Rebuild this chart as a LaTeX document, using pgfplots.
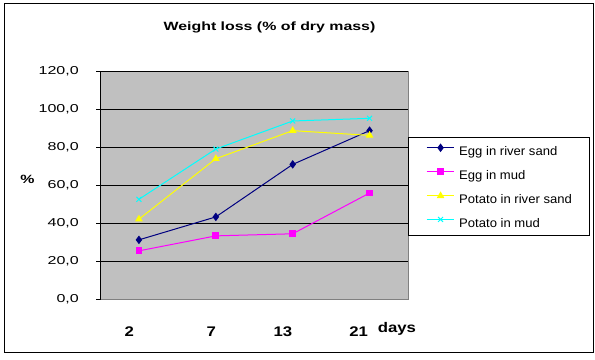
\documentclass[border=0pt]{standalone}
\usepackage{fontspec}
\setmainfont{Liberation Sans}
\newfontfamily\tickfont[FakeStretch=1.4]{Liberation Sans}
\newfontfamily\titlefont[FakeStretch=1.33]{Liberation Sans}
\newfontfamily\xfont[FakeStretch=1.2]{Liberation Sans}
\newfontfamily\legfont[FakeStretch=1.05]{Liberation Sans}
\usepackage{pgfplots}
\pgfplotsset{compat=1.18}
\definecolor{plotgray}{HTML}{C0C0C0}
\definecolor{bordergray}{HTML}{808080}
\definecolor{navy}{HTML}{000080}
\definecolor{mag}{HTML}{FF00FF}
\definecolor{yel}{HTML}{FFFF00}
\definecolor{cya}{HTML}{00FFFF}
\begin{document}
\begin{tikzpicture}[x=1bp,y=1bp]
\useasboundingbox (0,0) rectangle (595,359);
\draw[black, line width=1bp] (4,7) rectangle (593,355);
\node[font=\titlefont\bfseries\fontsize{12}{14}\selectfont] at (269.5,332) {Weight loss (\% of dry mass)};
\node[font=\titlefont\bfseries\fontsize{12}{14}\selectfont] at (27.5,180) {\%};
\node[font=\xfont\bfseries\fontsize{14}{16}\selectfont, anchor=base west, inner sep=0pt] at (377.7,26.7) {days};
\begin{axis}[
  at={(100.5bp,60bp)}, anchor=south west,
  scale only axis, width=307.5bp, height=227.5bp,
  xmin=-0.5, xmax=3.5, ymin=0, ymax=120,
  axis background/.style={fill=plotgray, draw=bordergray, line width=1bp},
  axis lines=left, axis line style={-},
  x axis line style={draw=bordergray, line width=1bp},
  y axis line style={draw=black, line width=1bp},
  ytick={0,20,40,60,80,100,120},
  yticklabels={{0,0},{20,0},{40,0},{60,0},{80,0},{100,0},{120,0}},
  yticklabel style={font=\tickfont\fontsize{11.5}{13}\selectfont, anchor=east, inner sep=0pt, xshift=-17bp},
  tick align=outside, major tick length=4.5bp,
  ytick style={black, line width=1bp},
  xtick={-0.126,0.94,1.873,2.857},
  xticklabels={2,7,13,21},
  xtick style={draw=none},
  xticklabel style={font=\xfont\bfseries\fontsize{14}{16}\selectfont, anchor=base, inner sep=0pt, yshift=-33.3bp},
  ymajorgrids, major grid style={black, line width=1bp},
  legend style={at={(rel axis cs:1.0007,0.7108)}, anchor=north west, draw=black, line width=1bp, fill=white,
    inner xsep=17.5bp, inner ysep=6.5bp, column sep=4.3bp, row sep=11bp,
    nodes={inner sep=0pt, text height=10.5bp, text depth=2bp},
    font=\legfont\fontsize{12.5}{14}\selectfont},
  legend cell align=left,
  legend image code/.code={\draw[mark repeat=2,mark phase=2,#1] plot coordinates {(0bp,3.6bp) (13.85bp,3.6bp) (27.7bp,3.6bp)};},
  every axis plot/.append style={line width=1bp},
]
\addplot[color=navy, mark=diamond*, mark size=3.5bp, mark options={solid, fill=navy}] coordinates {(0,31.2) (1,43.3) (2,71.0) (3,88.8)};
\addlegendentry{Egg in river sand}
\addplot[color=mag, mark=square*, mark size=2.9bp, mark options={solid, fill=mag}] coordinates {(0,25.4) (1,33.3) (2,34.4) (3,55.9)};
\addlegendentry{Egg in mud}
\addplot[color=yel, mark=triangle*, mark size=3.5bp, mark options={solid, fill=yel}] coordinates {(0,42.1) (1,74.0) (2,88.8) (3,86.3)};
\addlegendentry{Potato in river sand}
\addplot[color=cya, mark=x, mark size=3.5bp, mark options={solid}] coordinates {(0,52.6) (1,79.1) (2,93.9) (3,95.3)};
\addlegendentry{Potato in mud}
\end{axis}
\end{tikzpicture}
\end{document}
